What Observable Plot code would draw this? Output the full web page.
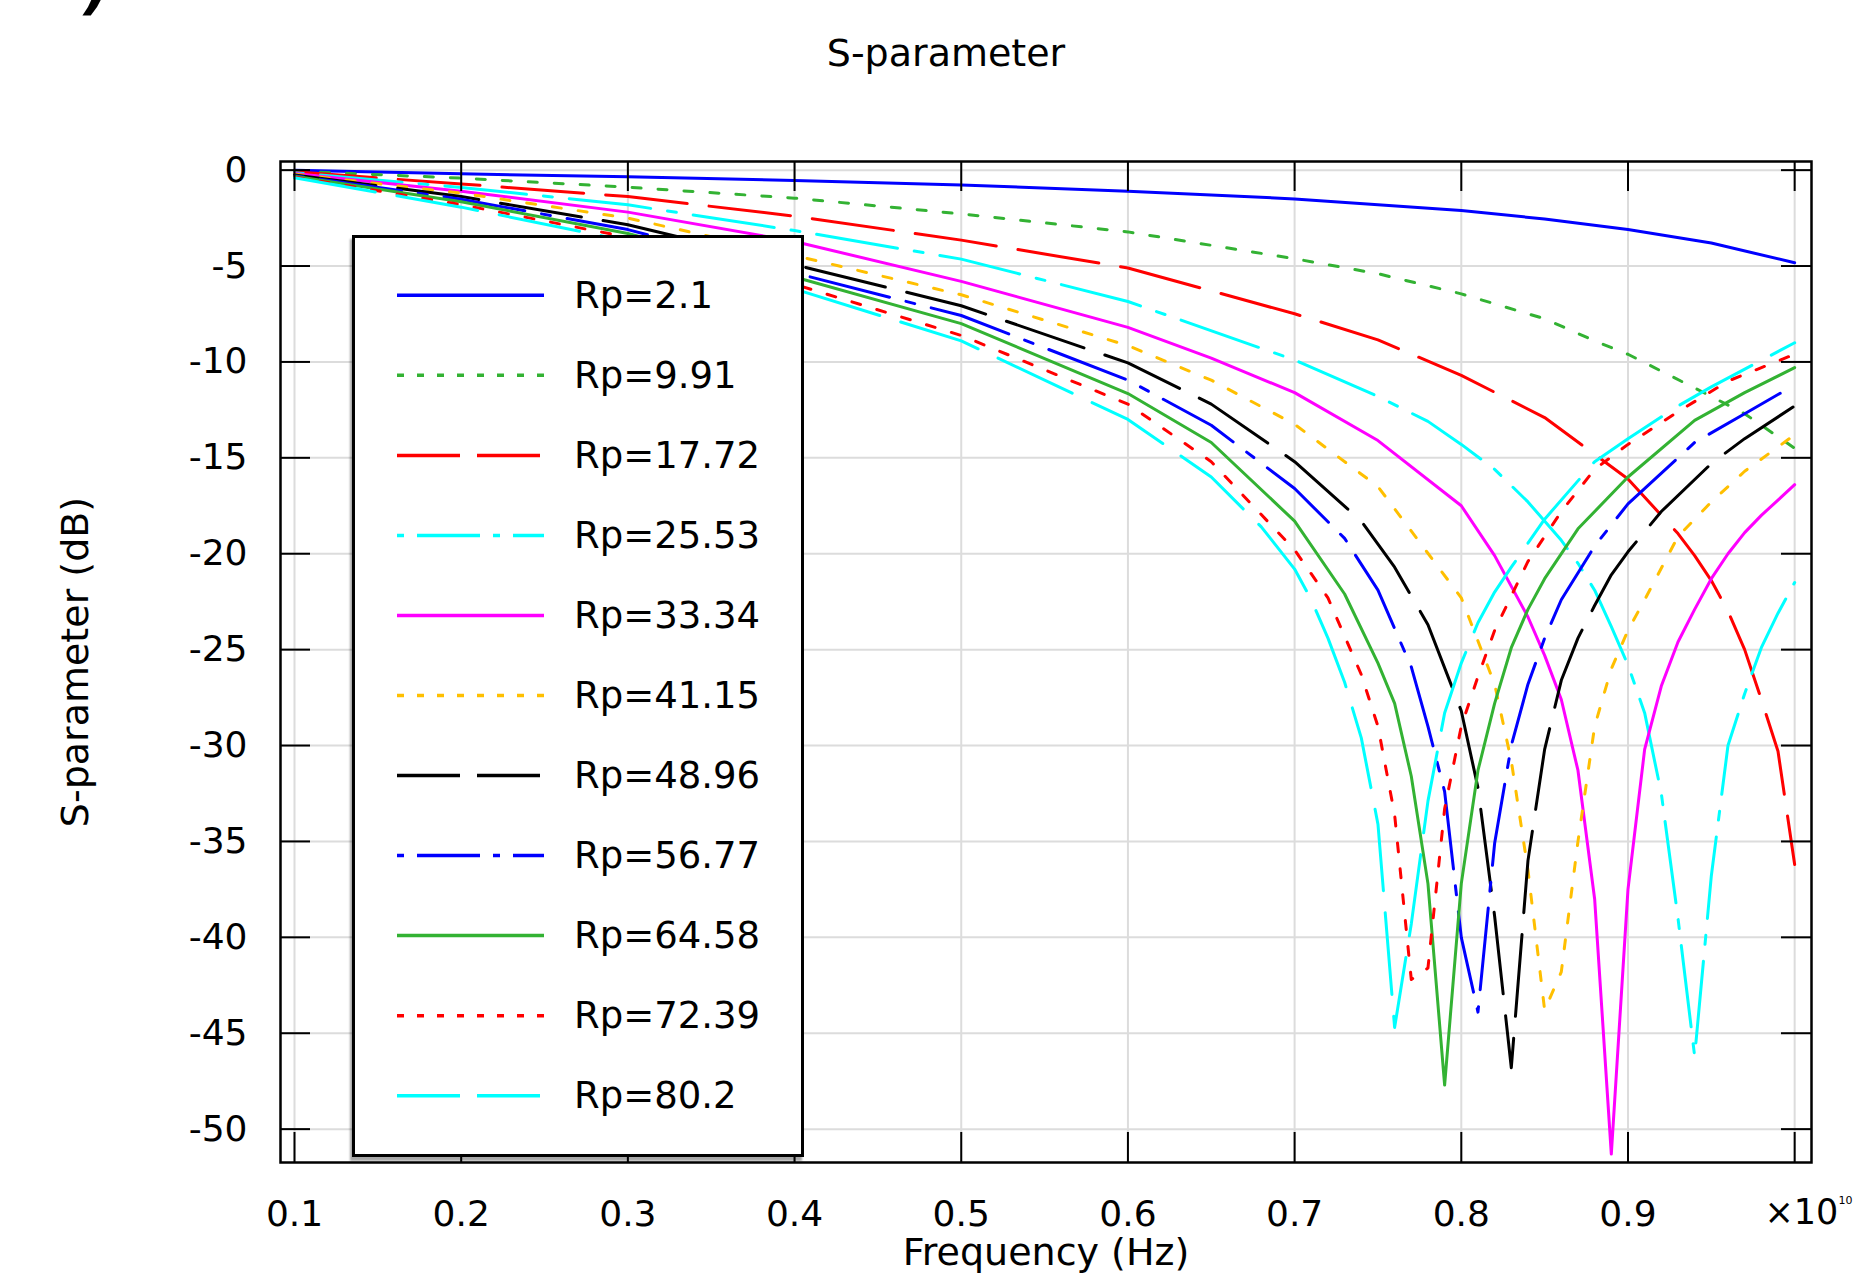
<!DOCTYPE html>
<html>
<head>
<meta charset="utf-8">
<script src="https://cdn.jsdelivr.net/npm/d3@7"></script>
<script src="https://cdn.jsdelivr.net/npm/@observablehq/plot@0.6"></script>
<style>
  html, body { margin: 0; padding: 0; background: #fff; }
  #page { position: relative; width: 1860px; height: 1273px; overflow: hidden; background: #fff; font-family: "DejaVu Sans", sans-serif; }
  #corner { position: absolute; left: 84px; top: -40px; font-size: 58px; line-height: 56px; font-style: italic; font-weight: bold; }
  #title { position: absolute; left: 0; top: 32px; width: 1892px; text-align: center; font-size: 38px; line-height: 42px; color: #000; }
  #chart { position: absolute; left: 0; top: 100px; }
  #legend { position: absolute; left: 352px; top: 235px; width: 452px; height: 922px; box-sizing: border-box; border: 3px solid #000; background: #fff; box-shadow: -2px 4px 2px rgba(0,0,0,0.35); }
</style>
</head>
<body>
<div id="page">
  <div id="corner">)</div>
  <div id="title">S-parameter</div>
  <div id="chart"></div>
  <div id="legend"></div>
</div>
<script>
// ---- data (frequency in units of 1e10 Hz, S-parameter in dB) ----
const freqTicks = [0.1, 0.2, 0.3, 0.4, 0.5, 0.6, 0.7, 0.8, 0.9, 1.0];
const freqTickLabels = [0.1, 0.2, 0.3, 0.4, 0.5, 0.6, 0.7, 0.8, 0.9];
const dbTicks = [0, -5, -10, -15, -20, -25, -30, -35, -40, -45, -50];
const seriesNames = ["Rp=2.1", "Rp=9.91", "Rp=17.72", "Rp=25.53", "Rp=33.34", "Rp=41.15", "Rp=48.96", "Rp=56.77", "Rp=64.58", "Rp=72.39", "Rp=80.2"];

const rp2_1 = [[0.1,-0.01],[0.2,-0.19],[0.3,-0.35],[0.4,-0.54],[0.5,-0.77],[0.6,-1.1],[0.7,-1.5],[0.8,-2.1],[0.85,-2.55],[0.9,-3.1],[0.95,-3.8],[1.0,-4.83]];
const rp9_91 = [[0.1,-0.05],[0.2,-0.42],[0.3,-0.89],[0.4,-1.46],[0.5,-2.28],[0.6,-3.22],[0.7,-4.62],[0.75,-5.4],[0.8,-6.45],[0.85,-7.75],[0.88,-8.9],[0.9,-9.6],[0.95,-11.8],[0.97,-12.7],[1.0,-14.5]];
const rp17_72 = [[0.1,-0.09],[0.2,-0.72],[0.3,-1.38],[0.4,-2.4],[0.5,-3.65],[0.6,-5.1],[0.7,-7.49],[0.75,-8.85],[0.8,-10.7],[0.85,-12.9],[0.9,-16.1],[0.93,-18.95],[0.94,-20.1],[0.95,-21.4],[0.96,-23.0],[0.97,-25.0],[0.98,-27.6],[0.99,-30.3],[1.0,-36.2]];
const rp25_53 = [[0.1,-0.13],[0.2,-0.9],[0.3,-1.81],[0.4,-3.15],[0.5,-4.64],[0.6,-6.85],[0.7,-9.9],[0.75,-11.8],[0.78,-13.1],[0.8,-14.3],[0.82,-15.6],[0.84,-17.3],[0.86,-19.3],[0.87,-20.5],[0.88,-21.9],[0.89,-23.8],[0.9,-25.8],[0.91,-28.3],[0.92,-32.5],[0.93,-39.0],[0.94,-46.2],[0.95,-36.8],[0.96,-30.0],[0.97,-27.3],[0.98,-24.9],[0.99,-23.1],[1.0,-21.5]];
const rp33_34 = [[0.1,-0.17],[0.2,-1.1],[0.3,-2.19],[0.4,-3.72],[0.5,-5.8],[0.6,-8.2],[0.65,-9.8],[0.7,-11.6],[0.75,-14.1],[0.8,-17.5],[0.82,-20.1],[0.84,-23.3],[0.85,-25.3],[0.86,-27.6],[0.87,-31.3],[0.88,-38.0],[0.89,-51.3],[0.9,-37.5],[0.91,-30.2],[0.92,-26.9],[0.93,-24.6],[0.94,-22.9],[0.95,-21.3],[0.96,-20.0],[0.97,-18.9],[0.98,-18.0],[0.99,-17.2],[1.0,-16.4]];
const rp41_15 = [[0.1,-0.21],[0.2,-1.2],[0.3,-2.5],[0.4,-4.45],[0.5,-6.5],[0.6,-9.15],[0.65,-10.95],[0.7,-13.25],[0.75,-16.5],[0.8,-22.3],[0.82,-26.8],[0.83,-30.8],[0.84,-36.5],[0.85,-43.8],[0.86,-41.8],[0.87,-35.0],[0.88,-29.0],[0.89,-26.0],[0.9,-24.0],[0.91,-22.4],[0.93,-19.1],[0.95,-17.3],[0.97,-15.7],[1.0,-13.8]];
const rp48_96 = [[0.1,-0.25],[0.2,-1.38],[0.3,-2.85],[0.4,-4.93],[0.5,-7.07],[0.6,-10.05],[0.65,-12.2],[0.7,-15.2],[0.74,-18.3],[0.76,-20.7],[0.78,-23.7],[0.8,-28.2],[0.81,-32.2],[0.82,-38.9],[0.83,-46.8],[0.84,-36.0],[0.85,-30.2],[0.86,-26.6],[0.87,-24.4],[0.88,-22.7],[0.89,-21.1],[0.9,-19.9],[0.92,-17.8],[0.95,-15.3],[0.97,-14.0],[1.0,-12.3]];
const rp56_77 = [[0.1,-0.29],[0.2,-1.52],[0.3,-3.1],[0.4,-5.36],[0.5,-7.58],[0.6,-10.95],[0.65,-13.3],[0.7,-16.6],[0.73,-19.2],[0.75,-21.9],[0.76,-23.9],[0.77,-25.9],[0.78,-29.0],[0.79,-32.4],[0.8,-40.0],[0.81,-43.9],[0.82,-35.1],[0.83,-30.0],[0.84,-26.8],[0.85,-24.4],[0.86,-22.4],[0.88,-19.6],[0.9,-17.4],[0.94,-14.2],[0.97,-12.7],[1.0,-11.2]];
const rp64_58 = [[0.1,-0.32],[0.2,-1.65],[0.3,-3.3],[0.4,-5.57],[0.5,-8.0],[0.6,-11.65],[0.65,-14.2],[0.7,-18.3],[0.73,-22.1],[0.75,-25.7],[0.76,-27.8],[0.77,-31.6],[0.78,-37.2],[0.79,-47.7],[0.8,-37.2],[0.81,-31.3],[0.82,-27.8],[0.83,-24.9],[0.84,-22.9],[0.85,-21.3],[0.87,-18.7],[0.9,-16.0],[0.94,-13.05],[0.97,-11.6],[1.0,-10.3]];
const rp72_39 = [[0.1,-0.36],[0.2,-1.8],[0.3,-3.5],[0.4,-5.95],[0.5,-8.62],[0.6,-12.2],[0.65,-15.2],[0.7,-19.8],[0.72,-22.3],[0.74,-26.3],[0.75,-29.0],[0.76,-33.6],[0.77,-42.2],[0.78,-41.6],[0.79,-33.3],[0.8,-29.0],[0.81,-26.4],[0.82,-24.0],[0.83,-22.2],[0.84,-20.4],[0.86,-17.8],[0.88,-15.6],[0.9,-14.3],[0.93,-12.6],[0.96,-11.0],[1.0,-9.6]];
const rp80_2 = [[0.1,-0.4],[0.2,-1.93],[0.3,-3.7],[0.4,-6.2],[0.5,-8.9],[0.6,-13.0],[0.65,-16.0],[0.68,-18.6],[0.7,-20.8],[0.71,-22.4],[0.72,-24.4],[0.73,-26.7],[0.74,-29.6],[0.75,-34.1],[0.76,-44.7],[0.77,-39.3],[0.78,-32.9],[0.79,-28.3],[0.8,-25.7],[0.81,-23.6],[0.82,-22.0],[0.83,-20.7],[0.85,-18.2],[0.88,-15.2],[0.9,-14.0],[0.93,-12.3],[0.95,-11.3],[1.0,-9.0]];

// ---- styles ----
const seriesData = [rp2_1, rp9_91, rp17_72, rp25_53, rp33_34, rp41_15, rp48_96, rp56_77, rp64_58, rp72_39, rp80_2];
const colors = ["#0000ff", "#33b233", "#ff0000", "#00ffff", "#ff00ff", "#ffbf00", "#000000", "#0000ff", "#33b233", "#ff0000", "#00ffff"];
const styleKind = ["solid", "dot", "dash", "dashdot", "solid", "dot", "dash", "dashdot", "solid", "dot", "dash"];
const plotDash = {solid: null, dot: "9,17", dash: "82,22", dashdot: "9,17,82,17"};
const legendDash = {solid: null, dot: "7,13", dash: "63,17", dashdot: "7,13,63,13"};

const W = 1860, H = 1173;
const mTop = 61, mBottom = 111, mLeft = 280, mRight = 49;
const innerW = W - mLeft - mRight, innerH = H - mTop - mBottom;
const tickLen = 30;
const font = "DejaVu Sans";

const lineMarks = seriesData.map((d, i) => Plot.line(d, {
  x: p => p[0], y: p => p[1],
  stroke: colors[i], strokeWidth: 3, strokeDasharray: plotDash[styleKind[i]],
  strokeLinejoin: "round"
}));

const chart = Plot.plot({
  width: W, height: H,
  marginTop: mTop, marginBottom: mBottom, marginLeft: mLeft, marginRight: mRight,
  style: {fontFamily: font, fontSize: "36px", background: "#fff", color: "#000", overflow: "visible"},
  x: {domain: [0.0916, 1.0101], axis: null},
  y: {domain: [-51.74, 0.45], axis: null},
  marks: [
    Plot.gridX(freqTicks, {stroke: "#dcdcdc", strokeOpacity: 1, strokeWidth: 2}),
    Plot.gridY(dbTicks, {stroke: "#dcdcdc", strokeOpacity: 1, strokeWidth: 2}),
    ...lineMarks,
    Plot.ruleX(freqTicks, {insetTop: innerH - tickLen, stroke: "#000", strokeWidth: 2}),
    Plot.ruleX(freqTicks, {insetBottom: innerH - tickLen, stroke: "#000", strokeWidth: 2}),
    Plot.ruleY(dbTicks, {insetRight: innerW - tickLen, stroke: "#000", strokeWidth: 2}),
    Plot.ruleY(dbTicks, {insetLeft: innerW - tickLen, stroke: "#000", strokeWidth: 2}),
    Plot.frame({stroke: "#000", strokeWidth: 2.5}),
    Plot.axisX(freqTickLabels, {tickSize: 0, tickPadding: 38, fontSize: 36, tickFormat: d => d.toFixed(1)}),
    Plot.axisY(dbTicks, {tickSize: 0, tickPadding: 33, fontSize: 36, tickFormat: d => String(d)}),
    Plot.text(["\u00d710"], {text: d => d, frameAnchor: "bottom-right", textAnchor: "start", lineAnchor: "middle", dx: -47, dy: 50, fontSize: 35}),
    Plot.text(["10"], {text: d => d, frameAnchor: "bottom-right", textAnchor: "start", lineAnchor: "middle", dx: 27, dy: 38, fontSize: 11}),
    Plot.text(["S-parameter (dB)"], {text: d => d, frameAnchor: "left", textAnchor: "middle", lineAnchor: "middle", dx: -205, rotate: -90, fontSize: 38}),
    Plot.text(["Frequency (Hz)"], {text: d => d, frameAnchor: "bottom", textAnchor: "middle", lineAnchor: "middle", dy: 90, fontSize: 38})
  ]
});
document.getElementById("chart").appendChild(chart);

// ---- legend ----
const legend = d3.select("#legend").append("svg")
  .attr("width", 446).attr("height", 916)
  .style("display", "block");
seriesNames.forEach((name, i) => {
  const cy = 57.3 + 80.04 * i;
  legend.append("line")
    .attr("x1", 42).attr("x2", 189).attr("y1", cy).attr("y2", cy)
    .attr("stroke", colors[i]).attr("stroke-width", 3.5)
    .attr("stroke-dasharray", legendDash[styleKind[i]]);
  legend.append("text")
    .attr("x", 219).attr("y", cy)
    .attr("dominant-baseline", "central")
    .attr("font-family", font).attr("font-size", 37)
    .attr("fill", "#000")
    .text(name);
});
</script>
</body>
</html>
